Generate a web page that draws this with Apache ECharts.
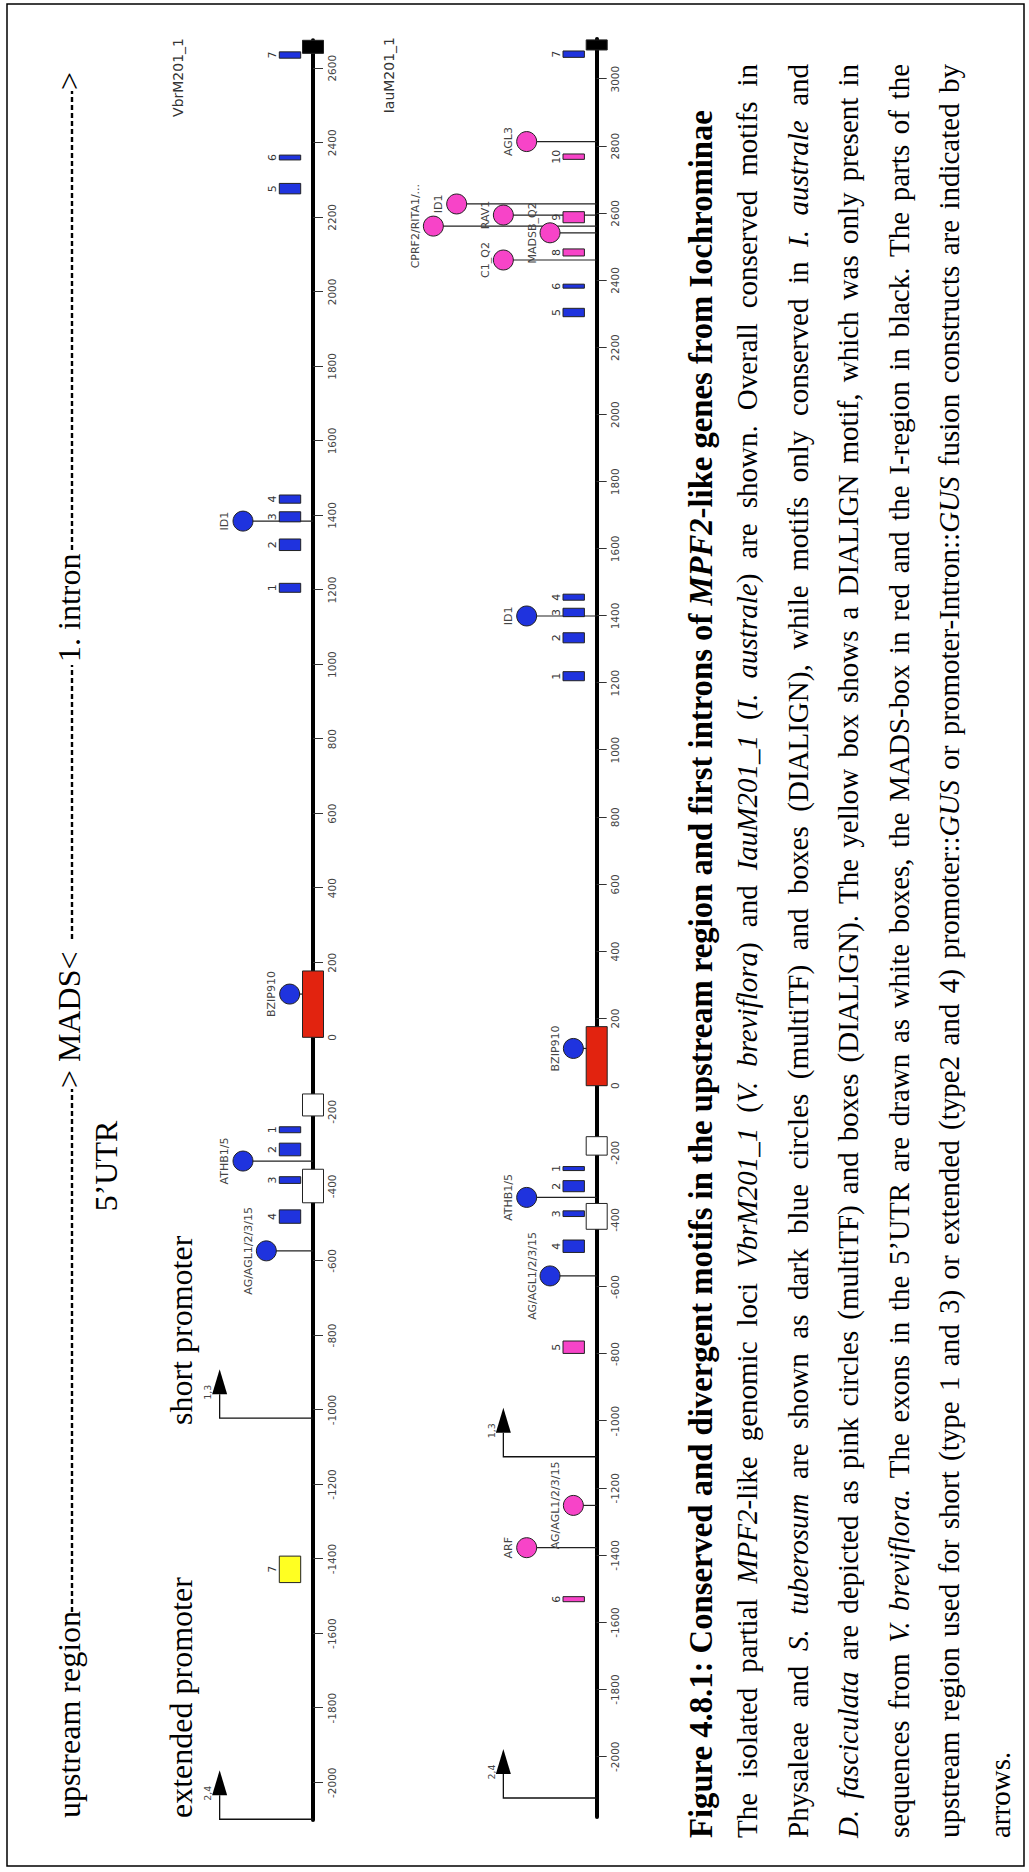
<!DOCTYPE html>
<html><head><meta charset="utf-8">
<script src="https://cdn.jsdelivr.net/npm/echarts@6.0.0/dist/echarts.min.js"></script>
<style>
html,body{margin:0;padding:0;background:#fff;overflow:hidden;}
#wrap{position:absolute;left:0;top:0;width:1029px;height:1872px;overflow:hidden;background:#fff;}
#chart{position:absolute;left:0;top:0;width:1872px;height:1029px;transform-origin:0 0;transform:translate(0px,1872px) rotate(-90deg);}
</style></head>
<body><div id="wrap"><div id="chart"></div></div>
<script>
// ---------------- DATA ----------------
// axis spans (bp) and tick labels
const vbrSpan = [-2100, 2675];
const iauSpan = [-2180, 3120];
const vbrTicks = [-2000,-1800,-1600,-1400,-1200,-1000,-800,-600,-400,-200,0,200,400,600,800,1000,1200,1400,1600,1800,2000,2200,2400,2600];
const iauTicks = [-2000,-1800,-1600,-1400,-1200,-1000,-800,-600,-400,-200,0,200,400,600,800,1000,1200,1400,1600,1800,2000,2200,2400,2600,2800,3000];

// gene structure on the axis: [start, end, type]
const vbrRegions = [[-444,-354,'exon'],[-211,-152,'exon'],[0,178,'mads'],[2640,2675,'iregion']];
const iauRegions = [[-428,-351,'exon'],[-207,-152,'exon'],[0,176,'mads'],[3087,3117,'iregion']];

// DIALIGN boxes: [start, end, label, group]
const vbrBoxes = [
  [-1463,-1392,'7','vbr'],
  [-499,-463,'4','cons'],[-392,-374,'3','cons'],[-318,-284,'2','cons'],[-256,-240,'1','cons'],
  [1194,1218,'1','cons'],[1306,1337,'2','cons'],[1383,1410,'3','cons'],[1433,1455,'4','cons'],
  [2263,2291,'5','cons'],[2354,2367,'6','cons'],[2627,2644,'7','cons']
];
const iauBoxes = [
  [-1538,-1523,'6','ioch'],[-798,-761,'5','ioch'],
  [-497,-460,'4','cons'],[-390,-373,'3','cons'],[-316,-283,'2','cons'],[-253,-241,'1','cons'],
  [1207,1234,'1','cons'],[1320,1350,'2','cons'],[1398,1423,'3','cons'],[1447,1465,'4','cons'],
  [2292,2317,'5','cons'],[2377,2389,'6','cons'],[2473,2494,'8','ioch'],[2572,2605,'9','ioch'],
  [2761,2777,'10','ioch'],[3065,3084,'7','cons']
];

// multiTF sites: [position, stem level, name, group]
const vbrSites = [
  [-573,2,'AG/AGL1/2/3/15','cons'],[-332,3,'ATHB1/5','cons'],[116,1,'BZIP910','cons'],[1385,3,'ID1','cons']
];
const iauSites = [
  [-1377,3,'ARF','ioch'],[-1251,1,'AG/AGL1/2/3/15','ioch'],[-567,2,'AG/AGL1/2/3/15','cons'],
  [-333,3,'ATHB1/5','cons'],[111,1,'BZIP910','cons'],[1400,3,'ID1','cons'],
  [2461,4,'C1_Q2','ioch'],[2542,2,'MADSB_Q2','ioch'],[2562,7,'CPRF2/RITA1/...','ioch'],
  [2595,4,'RAV1','ioch'],[2628,6,'ID1','ioch'],[2814,3,'AGL3','ioch']
];

// promoter constructs: [start position, construct types]
const vbrConstructs = [[-2098,'2,4'],[-1022,'1,3']];
const iauConstructs = [[-2123,'2,4'],[-1106,'1,3']];

const trackNames = ['VbrM201_1','IauM201_1'];

// caption text runs: [text, style]  (b = bold, i = italic)
const captionTitle = [
  ['Figure 4.8.1: Conserved and divergent motifs in the upstream region and first introns of ','b'],
  ['MPF2','bi'],['-like genes from Iochrominae','b']
];
const captionLines = [
  [['The isolated partial ',''],['MPF2','i'],['-like genomic loci ',''],['VbrM201_1','i'],[' (',''],['V. breviflora','i'],[') and ',''],['IauM201_1','i'],[' (',''],['I. australe','i'],[') are shown. Overall conserved motifs in','']],
  [['Physaleae and ',''],['S. tuberosum','i'],[' are shown as dark blue circles (multiTF) and boxes (DIALIGN), while motifs only conserved in ',''],['I. australe','i'],[' and','']],
  [['D. fasciculata','i'],[' are depicted as pink circles (multiTF) and boxes (DIALIGN). The yellow box shows a DIALIGN motif, which was only present in','']],
  [['sequences from ',''],['V. breviflora.','i'],[' The exons in the 5\u2019UTR are drawn as white boxes, the MADS-box in red and the I-region in black. The parts of the','']],
  [['upstream region used for short (type 1 and 3) or extended (type2 and 4) promoter::',''],['GUS','i'],[' or promoter-Intron::',''],['GUS','i'],[' fusion constructs are indicated by','']],
  [['arrows.','']]
];

// ---------------- STYLE ----------------
const W = 1872, H = 1029;
const groupColor = {cons:'#1f33de', ioch:'#f744c8', vbr:'#ffff22'};
const regionColor = {exon:'#ffffff', mads:'#e2230f', iregion:'#000000'};
const SERIF = '"Liberation Serif", "Times New Roman", serif';
const SANS = '"DejaVu Sans", Verdana, sans-serif';
const ARROW_LEVEL = 4;

const chart = echarts.init(document.getElementById('chart'), null, {renderer:'svg', width:W, height:H});

function mkX(gi, span, ticks){
  return {type:'value', gridIndex:gi, min:span[0], max:span[1], position:'bottom',
    axisLine:{show:true, onZero:false, lineStyle:{color:'#000', width:4}},
    axisTick:{show:true, customValues:ticks, length:10, lineStyle:{color:'#333', width:1}},
    axisLabel:{show:true, customValues:ticks, margin:13, fontSize:10.5, fontFamily:SANS, color:'#444',
      formatter:v=>String(v)},
    splitLine:{show:false}};
}
function mkY(gi){ return {type:'value', gridIndex:gi, min:0, max:8, show:false}; }

function stemSeries(gi, sites){
  return {type:'custom', xAxisIndex:gi, yAxisIndex:gi, z:1, clip:false, silent:true,
    data: sites.map(s=>[s[0], s[1]]),
    renderItem:(p, api)=>{
      const a = api.coord([api.value(0), 0]), b = api.coord([api.value(0), api.value(1)]);
      return {type:'line', shape:{x1:a[0], y1:a[1], x2:b[0], y2:b[1]}, style:{stroke:'#222', lineWidth:1.2}};
    }};
}
function regionSeries(gi, regs){
  return {type:'custom', xAxisIndex:gi, yAxisIndex:gi, z:3, clip:false, silent:true,
    data: regs.map(r=>[r[0], r[1]]),
    renderItem:(p, api)=>{
      const r = regs[p.dataIndex];
      const a = api.coord([api.value(0), 0]), b = api.coord([api.value(1), 0]);
      return {type:'rect', shape:{x:a[0], y:a[1]-10.5, width:b[0]-a[0], height:21},
        style:{fill:regionColor[r[2]], stroke:'#222', lineWidth:1}};
    }};
}
function boxSeries(gi, boxes){
  return {type:'custom', xAxisIndex:gi, yAxisIndex:gi, z:2, clip:false, silent:true,
    data: boxes.map(b=>[b[0], b[1]]),
    renderItem:(p, api)=>{
      const bx = boxes[p.dataIndex];
      const a = api.coord([api.value(0), 0]), b = api.coord([api.value(1), 0]);
      const top = a[1]-33.7;
      return {type:'group', children:[
        {type:'rect', shape:{x:a[0], y:top, width:b[0]-a[0], height:21.4},
          style:{fill:groupColor[bx[3]], stroke:'#222', lineWidth:1}},
        {type:'text', x:(a[0]+b[0])/2, y:top-1,
          style:{text:bx[2], align:'center', verticalAlign:'bottom', fontSize:11, fontFamily:SANS, fill:'#333'}}
      ]};
    }};
}
function siteSeries(gi, sites){
  return {type:'scatter', xAxisIndex:gi, yAxisIndex:gi, z:4, symbol:'circle', symbolSize:20, silent:true,
    itemStyle:{borderColor:'#222', borderWidth:1, opacity:1},
    emphasis:{disabled:true},
    label:{show:true, position:'top', distance:2, formatter:'{b}', fontFamily:SANS, fontSize:11, color:'#444'},
    data: sites.map(s=>({name:s[2], value:[s[0], s[1]], itemStyle:{color:groupColor[s[3]], opacity:1}}))};
}
function constructSeries(gi, cons){
  return {type:'custom', xAxisIndex:gi, yAxisIndex:gi, z:2, clip:false, silent:true,
    data: cons.map(c=>[c[0], ARROW_LEVEL]),
    renderItem:(p, api)=>{
      const c = cons[p.dataIndex];
      const a = api.coord([api.value(0), 0]), b = api.coord([api.value(0), api.value(1)]);
      const base = b[0]+24, tip = base+25, y = b[1];
      return {type:'group', children:[
        {type:'polyline', shape:{points:[[a[0],a[1]],[b[0],y],[base,y]]}, style:{stroke:'#111', lineWidth:1.3, fill:null}},
        {type:'polygon', shape:{points:[[base,y-7.5],[tip,y],[base,y+7.5]]}, style:{fill:'#000'}},
        {type:'text', x:base+2, y:y-7, style:{text:c[1], align:'center', verticalAlign:'bottom', fontSize:9.5, fontFamily:SANS, fill:'#444'}}
      ]};
    }};
}

// ---------- caption layout (justified, word by word) ----------
const mctx = document.createElement('canvas').getContext('2d');
function cssFont(st, size){ return (st.indexOf('i')>=0?'italic ':'') + (st.indexOf('b')>=0?'bold ':'') + size + 'px ' + SERIF; }
function measure(t, st, size){ mctx.font = cssFont(st, size); return mctx.measureText(t).width; }
function layoutLine(runs, size, x0, x1, yMid, justify, out){
  const words = []; let cur = [];
  runs.forEach(([t, st])=>{
    t.split(' ').forEach((part, i)=>{
      if (i > 0) { if (cur.length) words.push(cur); cur = []; }
      if (part) cur.push([part, st]);
    });
  });
  if (cur.length) words.push(cur);
  const widths = words.map(w=>w.reduce((s, pc)=>s + measure(pc[0], pc[1], size), 0));
  const total = widths.reduce((a, b)=>a+b, 0);
  const gap = (justify && words.length > 1) ? (x1 - x0 - total)/(words.length-1) : measure(' ', runs[0][1], size);
  let x = x0;
  words.forEach((w, k)=>{
    let px = x;
    w.forEach(([t, st])=>{
      out.push({type:'text', x:px, y:yMid, silent:true,
        style:{text:t, fill:'#000', fontFamily:SERIF, fontSize:size,
          fontStyle: st.indexOf('i')>=0 ? 'italic':'normal', fontWeight: st.indexOf('b')>=0 ? 'bold':'normal',
          align:'left', verticalAlign:'middle'}});
      px += measure(t, st, size);
    });
    x += widths[k] + gap;
  });
}

const graphics = [];
// page frame
graphics.push({type:'rect', shape:{x:6, y:7, width:1862, height:1017}, style:{fill:null, stroke:'#000', lineWidth:1.5}, silent:true});
// header
function hText(t, x, y, size, align){ graphics.push({type:'text', x, y, silent:true,
  style:{text:t, fontFamily:SERIF, fontSize:size, fill:'#000', align:align||'left', verticalAlign:'middle'}}); }
function dash(x1, x2, y){ graphics.push({type:'line', silent:true, shape:{x1, y1:y, x2, y2:y}, style:{stroke:'#000', lineWidth:2.4, lineDash:[5,3]}}); }
hText('upstream region', 54, 68.5, 32);
dash(260, 783, 72);
hText('> MADS<', 784, 68.5, 32);
dash(933, 1207, 72);
hText('1. intron', 1210, 68.5, 32);
dash(1322, 1781, 72);
hText('>', 1782, 68.5, 32);
hText('5\u2019UTR', 706, 106, 32, 'center');
hText('extended promoter', 54, 181, 32);
hText('short promoter', 447, 181, 32);
// track names
graphics.push({type:'text', x:1834, y:177.8, silent:true, style:{text:trackNames[0], fontFamily:SANS, fontSize:14, fill:'#333', align:'right', verticalAlign:'middle'}});
graphics.push({type:'text', x:1835, y:388.8, silent:true, style:{text:trackNames[1], fontFamily:SANS, fontSize:14, fill:'#333', align:'right', verticalAlign:'middle'}});
// caption
const CAP_SIZE = 29;
const TITLE_SIZE = 32.7;
layoutLine(captionTitle, TITLE_SIZE, 34, 1808, 712 - 0.3375*TITLE_SIZE, false, graphics);
captionLines.forEach((ln, i)=>{
  const base = 757 + i*50.5;
  layoutLine(ln, CAP_SIZE, 34, 1808, base - 0.3375*CAP_SIZE, i < captionLines.length-1, graphics);
});

chart.setOption({
  animation:false,
  backgroundColor:'#fff',
  tooltip:{show:false},
  grid:[{left:52, right:40.3, top:126.3, height:186.7}, {left:54.9, right:38.9, top:410, height:186.7}],
  xAxis:[mkX(0, vbrSpan, vbrTicks), mkX(1, iauSpan, iauTicks)],
  yAxis:[mkY(0), mkY(1)],
  series:[
    stemSeries(0, vbrSites), regionSeries(0, vbrRegions), boxSeries(0, vbrBoxes), constructSeries(0, vbrConstructs), siteSeries(0, vbrSites),
    stemSeries(1, iauSites), regionSeries(1, iauRegions), boxSeries(1, iauBoxes), constructSeries(1, iauConstructs), siteSeries(1, iauSites)
  ],
  graphic: graphics
});
</script>
</body></html>
